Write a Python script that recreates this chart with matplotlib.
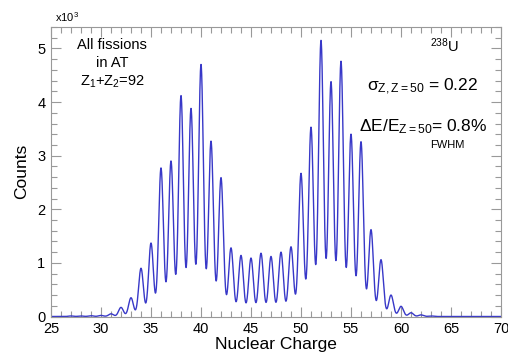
import numpy as np
import matplotlib
matplotlib.use("Agg")
import matplotlib.pyplot as plt
from matplotlib.ticker import MultipleLocator

plt.rcParams['font.family'] = ['Liberation Sans', 'DejaVu Sans']
plt.rcParams['mathtext.fontset'] = 'custom'
plt.rcParams['mathtext.rm'] = 'Liberation Sans'
plt.rcParams['mathtext.it'] = 'Liberation Sans'
plt.rcParams['mathtext.default'] = 'regular'

# Peak heights (counts x10^3) per nuclear charge Z
charges = [27, 28, 29, 30, 31, 32, 33, 34, 35, 36, 37, 38, 39, 40, 41, 42, 43, 44, 45,
           46, 47, 48, 49, 50, 51, 52, 53, 54, 55, 56, 57, 58, 59, 60, 61, 62, 63]
heights = [0.01, 0.01, 0.015, 0.02, 0.05, 0.17, 0.35, 0.90, 1.37, 2.77, 2.90, 4.12, 3.88, 4.70,
           3.27, 2.59, 1.28, 1.14, 1.09, 1.18, 1.12, 1.20, 1.30, 2.67, 3.53, 5.15, 4.38, 4.76,
           3.40, 3.26, 1.62, 1.06, 0.40, 0.19, 0.07, 0.03, 0.01]
sigma_z = 0.24  # peak width (chart states sigma = 0.22)

z = np.linspace(25, 70, 4000)
counts = np.zeros_like(z)
for c, h in zip(charges, heights):
    counts += h * np.exp(-0.5 * ((z - c) / sigma_z) ** 2)

fig = plt.figure(figsize=(5.08, 3.58), dpi=100)
ax = fig.add_axes([51/508, (358-316.5)/358, (501-51)/508, (316.5-27)/358])
ax.plot(z, counts, color='#3838c8', lw=1.0)
ax.set_xlim(25, 70)
ax.set_ylim(0, 5.40)

ax.xaxis.set_major_locator(MultipleLocator(5))
ax.xaxis.set_minor_locator(MultipleLocator(1))
ax.yaxis.set_major_locator(MultipleLocator(1))
ax.yaxis.set_minor_locator(MultipleLocator(0.2))
ax.tick_params(which='both', direction='in', top=True, right=True, color='#999999')
ax.tick_params(which='major', length=7, width=0.8, labelsize=10.5, pad=4)
ax.tick_params(which='minor', length=4, width=0.8)
for s in ax.spines.values():
    s.set_color('#999999')
    s.set_linewidth(0.8)

ax.set_xlabel('Nuclear Charge', fontsize=12.5, labelpad=1)
ax.set_ylabel('Counts', fontsize=12.5, labelpad=6)

fig.text(55/508, 1-17/358, r'x10$^3$', fontsize=8, ha='left', va='center')
fig.text(112/508, 1-45/358, 'All fissions', fontsize=10.5, ha='center', va='center')
fig.text(112/508, 1-63/358, 'in AT', fontsize=10.5, ha='center', va='center')
fig.text(112/508, 1-82/358, r'Z$_1$+Z$_2$=92', fontsize=10.5, ha='center', va='center')
fig.text(445/508, 1-46/358, r'$^{238}$U', fontsize=10.5, ha='center', va='center')
fig.text(478/508, 1-87/358, r'$\sigma_{Z,Z=50}$ = 0.22', fontsize=12.5, ha='right', va='center')
fig.text(487/508, 1-127/358, r'$\Delta$E/E$_{Z=50}$= 0.8%', fontsize=12.5, ha='right', va='center')
fig.text(447/508, 1-145/358, 'FWHM', fontsize=8, ha='center', va='center')

fig.savefig('out.png', dpi=100)
